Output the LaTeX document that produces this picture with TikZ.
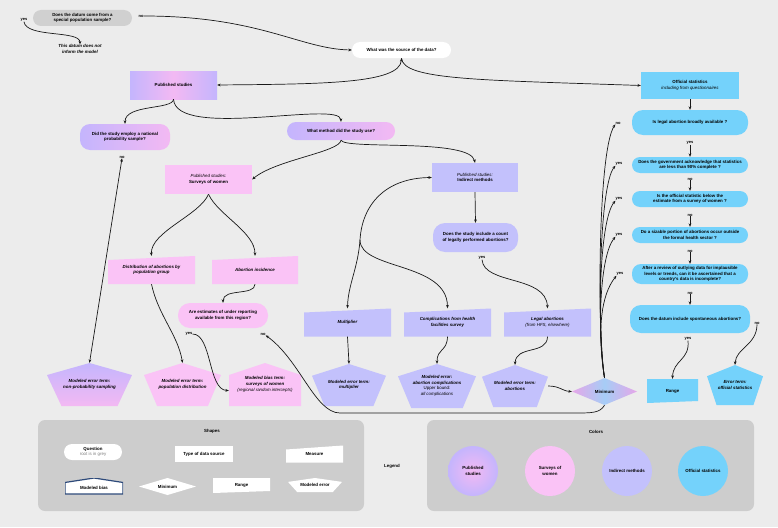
\documentclass[tikz,border=0pt]{standalone}
\usepackage{fontspec}
\setmainfont{Liberation Sans}
\usetikzlibrary{arrows.meta,calc}
\definecolor{bgc}{HTML}{ECECEC}
\definecolor{greyq}{HTML}{D0D0D0}
\definecolor{lavA}{HTML}{C4B5FD}
\definecolor{pinkA}{HTML}{F3B9F3}
\definecolor{survc}{HTML}{FAC3F6}
\definecolor{indc}{HTML}{C3C1FC}
\definecolor{offc}{HTML}{74D2FB}
\definecolor{legbox}{HTML}{CDCDCD}
\definecolor{navyc}{HTML}{2E4A7A}
\definecolor{minblue}{HTML}{A6CDF6}
\definecolor{minpink}{HTML}{E6A6E8}
\newcommand\fsz{\fontsize{4.4}{5.7}\selectfont}
\tikzset{
  every node/.style={font=\fsz\bfseries, align=center, inner sep=0pt, text=black},
  tag/.style={font=\fontsize{4}{5}\selectfont\bfseries},
  bi/.style={font=\fsz\bfseries\itshape},
  arr/.style={-{Stealth[length=3.4pt,width=2.8pt]}, line width=0.7pt, black!90},
  darr/.style={{Stealth[length=3.4pt,width=2.8pt]}-{Stealth[length=3.4pt,width=2.8pt]}, line width=0.7pt, black!90},
  pentS/.style={path picture={\path[#1] (path picture bounding box.north)
     -- ($(path picture bounding box.south east)!0.72!(path picture bounding box.north east)$)
     -- ($(path picture bounding box.south)!0.66!(path picture bounding box.south east)$)
     -- ($(path picture bounding box.south)!0.66!(path picture bounding box.south west)$)
     -- ($(path picture bounding box.south west)!0.72!(path picture bounding box.north west)$) -- cycle;}},
  houseS/.style={path picture={\path[#1] (path picture bounding box.north)
     -- ($(path picture bounding box.south east)!0.72!(path picture bounding box.north east)$)
     -- (path picture bounding box.south east)
     -- (path picture bounding box.south west)
     -- ($(path picture bounding box.south west)!0.72!(path picture bounding box.north west)$) -- cycle;}},
  measS/.style={path picture={\path[#1] (path picture bounding box.north east)
     -- (path picture bounding box.south east)
     -- (path picture bounding box.south west)
     -- ([yshift=-4pt]path picture bounding box.north west) -- cycle;}},
  rangeS/.style={path picture={\path[#1] (path picture bounding box.north west)
     -- (path picture bounding box.north east)
     -- ([yshift=2pt]path picture bounding box.south east)
     -- (path picture bounding box.south west) -- cycle;}},
  diaS/.style={path picture={\path[#1] (path picture bounding box.north)
     -- (path picture bounding box.east)
     -- (path picture bounding box.south)
     -- (path picture bounding box.west) -- cycle;}},
}
\begin{document}
\begin{tikzpicture}[x=1pt,y=-1pt]
\fill[bgc] (0,0) rectangle (778,527);
\useasboundingbox (0,0) rectangle (778,527);

% ---------- top
\node[fill=greyq, minimum width=99pt, minimum height=16pt, rounded corners=8pt] (q0) at (82.5,18) {Does the datum come from a\\special population sample?};
\node[tag] (yes0) at (24,20) {yes};
\node[tag] (no0) at (141,16) {no};
\node[bi] (noinf) at (80,49) {This datum does not\\inform the model};
\node[fill=white, minimum width=99pt, minimum height=16pt, rounded corners=8pt] (src) at (401.5,50) {What was the source of the data?};

% ---------- published studies
\node[minimum width=87pt, minimum height=28pt, left color=lavA, right color=lavA, middle color=pinkA] (pub) at (173.5,85) {Published studies};
\node[minimum width=90pt, minimum height=26pt, rounded corners=10pt, left color=lavA, right color=pinkA] (did) at (125,137) {Did the study employ a national\\probability sample?};
\node[tag] (no1) at (122,157) {no};
\node[minimum width=108pt, minimum height=18pt, rounded corners=9pt, left color=lavA, right color=pinkA] (meth) at (341,131) {What method did the study use?};

\node[fill=survc, minimum width=87pt, minimum height=29pt] (surv) at (208.5,179.5) {{\mdseries\itshape Published studies:}\\Surveys of women};
\node[fill=indc, minimum width=86pt, minimum height=29pt] (ind) at (475,177.5) {{\mdseries\itshape Published studies:}\\Indirect methods};
\node[fill=indc, minimum width=85pt, minimum height=29pt, rounded corners=12pt] (cnt) at (475.5,237.5) {Does the study include a count\\of legally performed abortions?};
\node[tag] (yes2) at (482,258) {yes};

\node[bi, measS={fill=survc}, minimum width=87pt, minimum height=28pt] (dist) at (151.5,270) {Distribution of abortions by\\population group};
\node[bi, measS={fill=survc}, minimum width=86pt, minimum height=28pt] (inc) at (255,270) {Abortion incidence};
\node[fill=survc, minimum width=90pt, minimum height=25pt, rounded corners=12pt] (und) at (223,315.5) {Are estimates of under reporting\\available from this region?};
\node[tag] (yes3) at (189,334) {yes};
\node[tag] (no3) at (263,334) {no};

\node[bi, measS={fill=indc}, minimum width=87pt, minimum height=28pt] (mult) at (347.5,322.5) {Multiplier};
\node[bi, measS={fill=indc}, minimum width=87pt, minimum height=28pt] (comp) at (447.5,322.5) {Complications from health\\facilities survey};
\node[bi, measS={fill=indc}, minimum width=87pt, minimum height=28pt] (leg) at (547.5,322.5) {Legal abortions\\{\mdseries (from HFS, elsewhere)}};

% ---------- bottom row
\node[bi, pentS={top color=lavA,bottom color=pinkA}, minimum width=85pt, minimum height=43pt] (p1) at (89.5,384.5) {Modeled error term:\\non-probability sampling};
\node[bi, pentS={fill=survc}, minimum width=77pt, minimum height=43pt] (p2) at (182.5,384.5) {Modeled error term:\\population distribution};
\node[bi, houseS={fill=survc}, minimum width=72pt, minimum height=43pt] (bias) at (265,384.5) {Modeled bias term:\\surveys of women\\{\mdseries (regional random intercepts)}};
\node[bi, pentS={fill=indc}, minimum width=74pt, minimum height=42pt] (pm) at (349,385) {Modeled error term:\\multiplier};
\node[bi, pentS={fill=indc}, minimum width=78pt, minimum height=44pt] (pc) at (437,386) {Modeled error:\\abortion complications\\{\mdseries\upshape Upper bound:}\\{\mdseries all complications}};
\node[bi, pentS={fill=indc}, minimum width=66pt, minimum height=42pt] (pa) at (515,386) {Modeled error term:\\abortions};
\node[diaS={left color=minpink,right color=minpink,middle color=minblue}, minimum width=65pt, minimum height=27pt] (mini) at (604.5,391.5) {Minimum};
\node[rangeS={fill=offc}, minimum width=51pt, minimum height=24pt] (range) at (672.5,391) {Range};
\node[bi, pentS={fill=offc}, minimum width=56pt, minimum height=40pt] (pe) at (735,385) {Error term:\\official statistics};

% ---------- official statistics column
\node[fill=offc, minimum width=98pt, minimum height=27pt] (off) at (690,85.5) {Official statistics\\{\mdseries\itshape including from questionnaires}};
\node[fill=offc, minimum width=116pt, minimum height=25pt, rounded corners=11pt] (q1) at (690,122.5) {Is legal abortion broadly available ?};
\node[tag] (yq1) at (690,143) {yes};
\node[fill=offc, minimum width=116pt, minimum height=16pt, rounded corners=8pt] (q2) at (690,165) {Does the government acknowledge that statistics\\are less than 90\% complete ?};
\node[tag] (nq2) at (690,179) {no};
\node[fill=offc, minimum width=116pt, minimum height=16pt, rounded corners=8pt] (q3) at (690,199) {Is the official statistic below the\\estimate from a survey of women ?};
\node[tag] (nq3) at (690,215) {no};
\node[fill=offc, minimum width=116pt, minimum height=16pt, rounded corners=8pt] (q4) at (690,235) {Do a sizable portion of abortions occur outside\\the formal health sector ?};
\node[tag] (nq4) at (690,251) {no};
\node[fill=offc, minimum width=116pt, minimum height=20pt, rounded corners=9pt] (q5) at (690,274) {After a review of outlying data for implausible\\levels or trends, can it be ascertained that a\\country's data is incomplete?};
\node[tag] (nq5) at (690,293) {no};
\node[fill=offc, minimum width=120pt, minimum height=28pt, rounded corners=11pt] (q6) at (690,319) {Does the datum include spontaneous abortions?};
\node[tag] (yq6) at (688,339) {yes};
\node[tag] (nq6) at (757,323) {no};
\node[tag] (na) at (618,123) {no};
\node[tag] (ya) at (619,164) {yes};
\node[tag] (yb) at (619,199) {yes};
\node[tag] (yc) at (619,235) {yes};
\node[tag] (yd) at (620,274) {yes};

% ---------- connectors
\draw[arr] (yes0.south) .. controls (26,38) and (80,30) .. (noinf.north);
\draw[arr] (no0.east) .. controls (260,16) and (300,49) .. (src.west);
\draw[darr] (src.south) .. controls (400,84) and (320,84) .. (pub.east);
\draw[arr] (src.south) .. controls (403,80) and (480,80) .. (off.west);
\draw[arr] (pub.south) .. controls (173,110) and (125,104) .. (did.north);
\draw[arr] (pub.south) .. controls (176,140) and (340,100) .. (meth.north);
\draw[darr] (no1.south) -- (p1.north);
\draw[arr] (meth.south) .. controls (340,152) and (275,160) .. (surv.east);
\draw[arr] (meth.south) .. controls (345,150) and (470,138) .. (ind.north);
\draw[arr] (ind.south) -- (cnt.north);
\draw[arr] (yes2.south) .. controls (484,285) and (546,275) .. (leg.north);
\coordinate (split) at (360,240);
\draw[darr] (ind.west) .. controls (385,178) and (362,205) .. (split) .. controls (360,270) and (447,262) .. (comp.north);
\draw[arr] (split) .. controls (358,268) and (348,285) .. (mult.north);
\draw[arr] (surv.south) .. controls (200,215) and (150,232) .. (dist.north);
\draw[arr] (surv.south) .. controls (218,215) and (255,232) .. (inc.north);
\draw[arr] (inc.south) .. controls (255,296) and (223,288) .. (und.north);
\draw[arr] (dist.south) .. controls (158,315) and (178,335) .. (p2.north);
\draw[arr] (yes3.east) .. controls (212,334) and (208,390) .. ([yshift=-6pt]bias.west);
\draw[arr] (mini.south) .. controls (600,413) and (592,413) .. (575,413) -- (340,413) .. controls (315,413) and (300,360) .. (no3.south east);
\draw[arr] (mult.south) -- (pm.north);
\draw[arr] (comp.south) .. controls (447,352) and (437,348) .. (pc.north);
\draw[arr] (leg.south) .. controls (547,355) and (516,345) .. (pa.north);
\draw[arr] (pa.east) .. controls (560,386) and (562,391) .. (mini.west);
\draw[arr] (yq6.south) .. controls (690,360) and (673,360) .. (range.north);
\draw[arr] (nq6.south) .. controls (757,345) and (736,348) .. (pe.north);
\draw[arr] (mini.north) .. controls (597,330) and (598,150) .. (na.south west);
\draw[arr] (mini.north) .. controls (597,330) and (599,185) .. (ya.south west);
\draw[arr] (mini.north) .. controls (597,330) and (599,220) .. (yb.south west);
\draw[arr] (mini.north) .. controls (597,330) and (600,255) .. (yc.south west);
\draw[arr] (mini.north) .. controls (597,330) and (601,295) .. (yd.south west);
\draw[arr] (off.south) -- (q1.north);
\draw[arr] (yq1.south) -- (q2.north);
\draw[arr] (nq2.south) -- (q3.north);
\draw[arr] (nq3.south) -- (q4.north);
\draw[arr] (nq4.south) -- (q5.north);
\draw[arr] (nq5.south) -- (q6.north);

% ---------- legend
\node[fill=legbox, rounded corners=7pt, minimum width=326pt, minimum height=91pt] (legL) at (201,465.5) {};
\node[fill=legbox, rounded corners=7pt, minimum width=327pt, minimum height=91pt] (legR) at (590.5,465.5) {};
\node (shapes) at (212,431) {Shapes};
\node (colors) at (596,432) {Colors};
\node (legend) at (392,466) {Legend};
\node[fill=white, minimum width=58pt, minimum height=16pt, rounded corners=8pt] (lq) at (93,452) {Question\\{\mdseries\color{black!50} root is in grey}};
\node[fill=white, minimum width=58pt, minimum height=16pt] (lt) at (204,454) {Type of data source};
\node[measS={fill=white}, minimum width=57pt, minimum height=17pt] (lm) at (314.5,454) {Measure};
\node[houseS={fill=white,draw=navyc,line width=1.2pt}, minimum width=58pt, minimum height=16pt] (lb) at (94,486) {\\[1pt]Modeled bias};
\node[diaS={fill=white}, minimum width=57pt, minimum height=17pt] (lmin) at (167.5,486.5) {Minimum};
\node[rangeS={fill=white}, minimum width=57pt, minimum height=15pt] (lr) at (241.5,485.5) {Range};
\node[pentS={fill=white}, minimum width=54pt, minimum height=14pt] (le) at (315,485) {Modeled error};
\node[circle, minimum size=50pt, inner color=pinkA, outer color=lavA] (c1) at (473,471) {Published\\studies};
\node[circle, minimum size=50pt, fill=survc] (c2) at (550,471) {Surveys of\\women};
\node[circle, minimum size=50pt, fill=indc] (c3) at (627,471) {Indirect methods};
\node[circle, minimum size=50pt, fill=offc] (c4) at (703,471) {Official statistics};
\end{tikzpicture}
\end{document}
